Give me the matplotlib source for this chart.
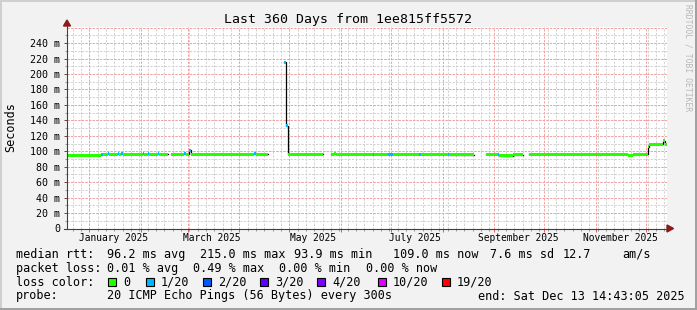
import matplotlib
matplotlib.use("Agg")
import matplotlib.pyplot as plt
import matplotlib.transforms as mtransforms
from matplotlib.patches import Polygon, Rectangle
from matplotlib.lines import Line2D
import numpy as np
from datetime import datetime, timedelta

W, H = 697, 310
t_start = datetime(2024, 12, 18, 14, 43, 5)
t_end = datetime(2025, 12, 13, 14, 43, 5)

# median rtt: segment start, value in ms (nan = no data), loss index
seg_start = ["2024-12-18 14:43", "2025-01-08", "2025-01-09", "2025-01-12", "2025-01-13",
             "2025-01-18", "2025-01-19", "2025-01-20", "2025-01-21", "2025-01-30",
             "2025-02-02", "2025-02-03", "2025-02-05", "2025-02-06", "2025-02-11",
             "2025-02-12", "2025-02-17", "2025-02-19", "2025-02-27", "2025-02-28",
             "2025-03-02", "2025-03-03", "2025-04-10", "2025-04-11", "2025-04-18",
             "2025-04-28", "2025-04-29", "2025-04-30", "2025-05-21", "2025-05-26",
             "2025-05-28", "2025-05-29", "2025-06-20", "2025-06-21", "2025-06-29",
             "2025-07-01", "2025-07-02", "2025-07-18", "2025-07-19", "2025-08-04",
             "2025-08-05", "2025-08-20", "2025-08-27", "2025-09-03", "2025-09-04",
             "2025-09-12", "2025-09-18", "2025-09-22", "2025-11-03", "2025-11-04",
             "2025-11-20", "2025-11-23", "2025-12-02 12:00", "2025-12-03", "2025-12-11",
             "2025-12-12 12:00"]
seg_rtt = [94.6, 95.5, 96.0, 96.5, 96.0,
           96.6, 96.2, 96.6, 96.3, 96.0,
           96.5, 96.0, 96.5, 96.0, 96.5,
           96.3, np.nan, 96.0, 96.5, 96.0,
           101.0, 96.0, 96.5, 96.0, np.nan,
           215.0, 133.0, 96.0, np.nan, 96.0,
           97.0, 96.0, 96.0, 96.0, 96.3,
           96.3, 96.0, 96.3, 96.0, 95.8,
           95.2, np.nan, 96.0, 96.0, 94.3,
           95.6, np.nan, 96.2, 95.3, 96.2,
           94.8, 96.2, 106.0, 109.3, 113.5,
           109.0]
seg_loss = [0, 1, 0, 1, 0,
            1, 0, 1, 0, 0,
            1, 0, 1, 0, 1,
            0, 0, 0, 1, 0,
            1, 0, 1, 0, 0,
            1, 1, 0, 0, 0,
            0, 0, 1, 0, 1,
            1, 0, 1, 0, 1,
            0, 0, 0, 1, 0,
            0, 0, 0, 0, 0,
            0, 0, 0, 0, 0,
            0]

loss_colors = ["#26ff00", "#00b8ff", "#0059ff", "#5e00ff", "#7e00ff", "#dd00ff", "#ff0000"]
loss_labels = ["0", "1/20", "2/20", "3/20", "4/20", "10/20", "19/20"]
month_labels = ["January 2025", "March 2025", "May 2025", "July 2025", "September 2025", "November 2025"]
month_label_dates = ["2025-01-15 12:00", "2025-03-15 12:00", "2025-05-15 12:00",
                     "2025-07-15 12:00", "2025-09-15 12:00", "2025-11-15 12:00"]

mono = "DejaVu Sans Mono"
plt.rcParams["font.family"] = mono


def fx(x):
    return x / W


def fy(y):
    return 1 - y / H


def dt(s):
    return datetime.fromisoformat(s)


fig = plt.figure(figsize=(W / 100, H / 100), dpi=100, facecolor="#f2f2f2")
ax = fig.add_axes([fx(67), fy(228.5), 600 / W, (228.5 - 27) / H])
ax.set_facecolor("white")
ax.set_xlim(t_start, t_end)
ax.set_ylim(0, 260.8)
for s in ax.spines.values():
    s.set_visible(False)

# grid, dotted like rrdtool
minor_days = [datetime(2025, 1, 1) + timedelta(days=5 * k) for k in range(-2, 72)]
minor_days = [d for d in minor_days if t_start < d < t_end]
months = [datetime(2025, m, 1) for m in range(1, 13)]
dot = (0, (2.2, 1.4))
gkw = dict(lw=0.72, ls=dot)
for d in minor_days:
    ax.axvline(d, color="#d2d2d2", zorder=0, **gkw)
for v in range(10, 261, 10):
    ax.axhline(v, color="#d2d2d2", zorder=0, **gkw)
for d in months:
    ax.axvline(d, color="#f2a0a0", zorder=0.5, **gkw)
for v in range(20, 261, 20):
    ax.axhline(v, color="#f2a0a0", zorder=0.5, **gkw)

# median line (black) and loss coloured bands
xs = [dt(s) for s in seg_start] + [t_end]
ys = list(seg_rtt) + [seg_rtt[-1]]
ax.step(xs, ys, where="post", color="black", lw=0.9, zorder=2)
for i in range(len(seg_start)):
    v = seg_rtt[i]
    if np.isnan(v):
        continue
    ax.fill_between([xs[i], xs[i + 1]], v - 1.95, v + 1.95,
                    color=loss_colors[seg_loss[i]], lw=0, zorder=3)

# ticks
ax.set_yticks(range(0, 241, 20))
ax.set_yticklabels(["0"] + ["%d m" % v for v in range(20, 241, 20)])
ax.set_yticks(range(10, 251, 20), minor=True)
ax.set_xticks(months)
ax.set_xticks(minor_days, minor=True)
ax.set_xticklabels([])
ax.tick_params(axis="y", which="major", length=2.2, width=0.72, color="#555555",
               pad=2.9, labelsize=7.2, labelcolor="black")
ax.tick_params(axis="y", which="minor", length=1.4, width=0.72, color="#999999")
ax.tick_params(axis="x", which="major", length=2.2, width=0.72, color="#e06060")
ax.tick_params(axis="x", which="minor", length=1.4, width=0.72, color="#999999")

trans = mtransforms.blended_transform_factory(ax.transData, fig.transFigure)
for lab, d in zip(month_labels, month_label_dates):
    ax.text(dt(d), fy(238), lab, transform=trans, ha="center", va="center",
            fontsize=6.9, family=mono)

# axis lines and arrows
fig.add_artist(Line2D([fx(67), fx(67)], [fy(228.5), fy(25)], color="#404040", lw=0.8))
fig.add_artist(Line2D([fx(64), fx(669)], [fy(228.5), fy(228.5)], color="#404040", lw=0.8))
fig.add_artist(Polygon([(fx(63.5), fy(26)), (fx(70.5), fy(26)), (fx(67), fy(20))],
                       closed=True, color="#8b1a1a", transform=fig.transFigure))
fig.add_artist(Polygon([(fx(667), fy(225)), (fx(667), fy(232)), (fx(673.5), fy(228.5))],
                       closed=True, color="#8b1a1a", transform=fig.transFigure))

# title, axis label, watermark
fig.text(fx(347.5), fy(19), "Last 360 Days from 1ee815ff5572", ha="center", va="center",
         fontsize=9.5)
fig.text(fx(11), fy(127), "Seconds", rotation=90, ha="center", va="center", fontsize=8.5)
fig.text(fx(688), fy(4), "RRDTOOL / TOBI OETIKER", rotation=270, ha="center", va="top",
         fontsize=5.8, color="#b8b8b8")

# legend
fs = 8.5
rows = [
    [(16, "median rtt:"), (107, "96.2 ms avg"), (200, "215.0 ms max"), (294, "93.9 ms min"),
     (393, "109.0 ms now"), (490, "7.6 ms sd"), (563, "12.7"), (622, "am/s")],
    [(16, "packet loss:"), (107, "0.01 % avg"), (193, "0.49 % max"), (279, "0.00 % min"),
     (366, "0.00 % now")],
    [(16, "loss color:")],
    [(16, "probe:"), (107, "20 ICMP Echo Pings (56 Bytes) every 300s"),
     (478, "end: Sat Dec 13 14:43:05 2025")],
]
row_y = [254.3, 268.3, 282.3, 296]
for y, row in zip(row_y, rows):
    for x, s in row:
        fig.text(fx(x), fy(y), s, ha="left", va="center", fontsize=fs)

box_x = [108, 146, 203, 260, 317, 378, 442]
for bx, c, lab in zip(box_x, loss_colors, loss_labels):
    fig.add_artist(Rectangle((fx(bx), fy(286)), 8 / W, 8 / H, facecolor=c,
                             edgecolor="black", lw=0.8, transform=fig.transFigure))
    fig.text(fx(bx + 15), fy(282.3), lab, ha="left", va="center", fontsize=fs)

# canvas frame
fig.add_artist(Line2D([0, 1], [fy(0.5), fy(0.5)], color="#cfcfcf", lw=1.4))
fig.add_artist(Line2D([fx(0.5), fx(0.5)], [0, 1], color="#cfcfcf", lw=1.4))
fig.add_artist(Line2D([0, 1], [fy(309), fy(309)], color="#9f9f9f", lw=1.4))
fig.add_artist(Line2D([fx(696), fx(696)], [0, 1], color="#9f9f9f", lw=1.4))

fig.savefig("out.png", dpi=100, facecolor=fig.get_facecolor())
